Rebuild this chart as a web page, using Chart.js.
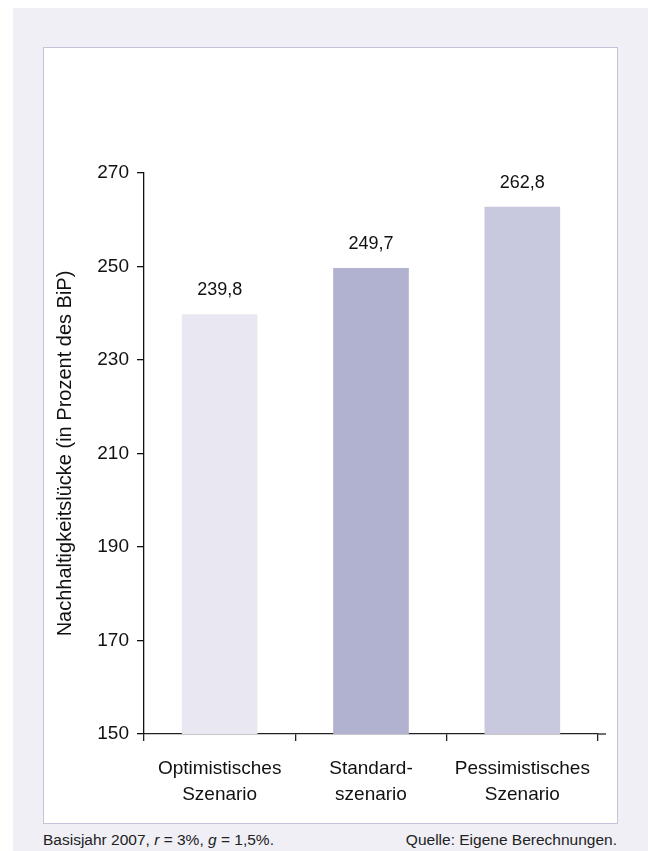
<!DOCTYPE html>
<html>
<head>
<meta charset="utf-8">
<script src="https://cdn.jsdelivr.net/npm/chart.js@4.4.1/dist/chart.umd.min.js"></script>
<style>
  html, body { margin: 0; padding: 0; background: #ffffff; }
  body { width: 648px; height: 851px; position: relative; overflow: hidden;
         font-family: "Liberation Sans", Arial, Helvetica, sans-serif; }
  #bg { position: absolute; left: 13px; top: 8px; right: 0; bottom: 0; background: #efeff5; }
  #panel { position: absolute; left: 43px; top: 47px; width: 575px; height: 777px;
           box-sizing: border-box; border: 1px solid #c3c3dc; background: #ffffff; }
  #panel canvas { display: block; }
  .foot { position: absolute; top: 831px; font-size: 15.5px; color: #222; line-height: 18px; }
  #note { left: 43px; }
  #source { right: 31px; }
</style>
</head>
<body>
<div id="bg"></div>
<div id="panel"><canvas id="gapChart" width="573" height="775"></canvas></div>
<div class="foot" id="note">Basisjahr 2007, <i>r</i> = 3%, <i>g</i> = 1,5%.</div>
<div class="foot" id="source">Quelle: Eigene Berechnungen.</div>
<script>
// Szenarien und Nachhaltigkeitslücke (in % des BiP)
var scenarios = [['Optimistisches', 'Szenario'], ['Standard-', 'szenario'], ['Pessimistisches', 'Szenario']];
var gapValues = [239.8, 249.7, 262.8];
var barColors = ['#e8e7f2', '#b1b1d0', '#c8c9df'];
var yTicks = [150, 170, 190, 210, 230, 250, 270];

var fontName = '"Liberation Sans", Arial, Helvetica, sans-serif';

// values above the bars, German decimal comma
var valueLabels = {
    id: 'valueLabels',
    afterDatasetsDraw: function(chart) {
        var ctx = chart.ctx;
        var meta = chart.getDatasetMeta(0);
        ctx.save();
        ctx.font = '18px ' + fontName;
        ctx.fillStyle = '#111';
        ctx.textAlign = 'center';
        ctx.textBaseline = 'middle';
        meta.data.forEach(function(bar, i) {
            var txt = gapValues[i].toFixed(1).replace('.', ',');
            ctx.fillText(txt, bar.x, bar.y - 24);
        });
        ctx.restore();
    }
};

// x axis line runs a little past the last tick
var axisTail = {
    id: 'axisTail',
    afterDraw: function(chart) {
        var a = chart.chartArea;
        var ctx = chart.ctx;
        ctx.save();
        ctx.strokeStyle = '#222';
        ctx.lineWidth = 1.3;
        ctx.beginPath();
        ctx.moveTo(a.right, a.bottom);
        ctx.lineTo(a.right + 8, a.bottom);
        ctx.stroke();
        ctx.restore();
    }
};

var ctx = document.getElementById('gapChart').getContext('2d');
var gapChart = new Chart(ctx, {
    type: 'bar',
    data: {
        labels: scenarios,
        datasets: [{
            data: gapValues,
            backgroundColor: barColors,
            borderWidth: 0,
            barPercentage: 0.5,
            categoryPercentage: 1.0
        }]
    },
    options: {
        responsive: false,
        animation: false,
        layout: { padding: { top: 125, right: 19, bottom: 0, left: 0 } },
        plugins: {
            legend: { display: false },
            tooltip: { enabled: false }
        },
        scales: {
            x: {
                offset: true,
                grid: { display: true, drawOnChartArea: false, offset: true, tickLength: 7, color: '#222', lineWidth: 1.3 },
                border: { display: true, color: '#222', width: 1.3 },
                ticks: {
                    color: '#111',
                    padding: 15,
                    font: { family: fontName, size: 19, lineHeight: '26px' }
                }
            },
            y: {
                min: 150,
                max: 270,
                afterFit: function(scale) { scale.width = 100; },
                afterBuildTicks: function(scale) {
                    scale.ticks = yTicks.map(function(v) { return { value: v }; });
                },
                grid: { display: true, drawOnChartArea: false, tickLength: 7, color: '#111', lineWidth: 1.3 },
                border: { display: true, color: '#111', width: 1.3 },
                ticks: {
                    color: '#111',
                    padding: 8,
                    font: { family: fontName, size: 19 }
                },
                title: {
                    display: true,
                    text: 'Nachhaltigkeitslücke (in Prozent des BiP)',
                    color: '#111',
                    padding: { top: 9, bottom: 0 },
                    font: { family: fontName, size: 20 }
                }
            }
        }
    },
    plugins: [valueLabels, axisTail]
});
</script>
</body>
</html>
